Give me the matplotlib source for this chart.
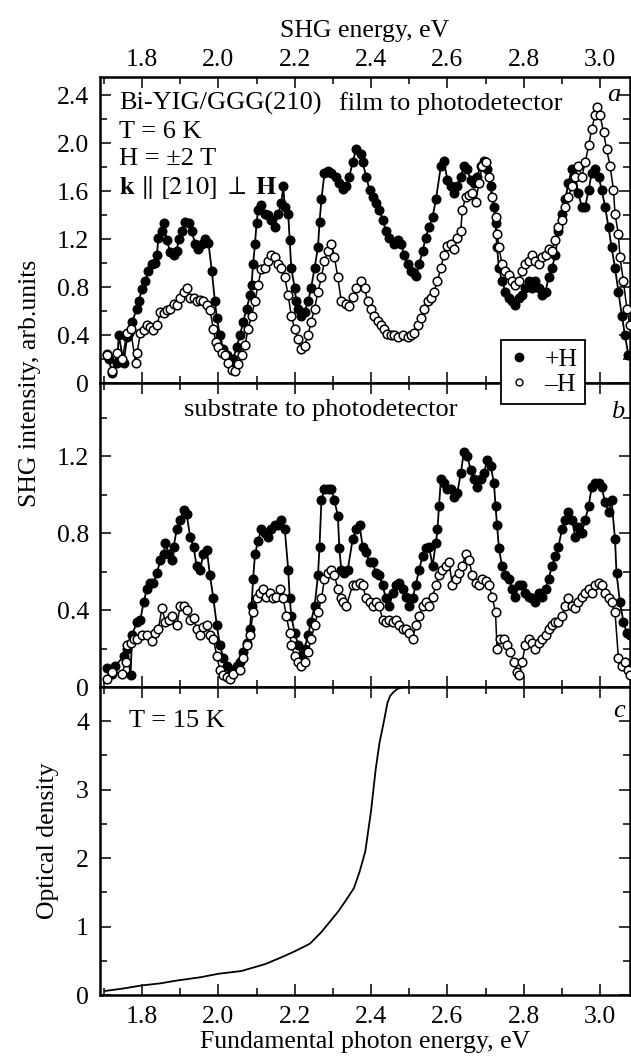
import matplotlib
matplotlib.use("Agg")
import matplotlib.pyplot as plt
from matplotlib.lines import Line2D
from matplotlib.ticker import MultipleLocator, FuncFormatter

plt.rcParams['font.family'] = ['Liberation Serif', 'DejaVu Serif']
plt.rcParams['mathtext.fontset'] = 'stix'

# panel a: film to photodetector, +H (filled) and -H (open)
a_plus_x = [1.709, 1.713, 1.722, 1.735, 1.739, 1.752, 1.761, 1.765, 1.774, 1.787, 1.791, 1.800, 1.809,
            1.817, 1.826, 1.835, 1.839, 1.843, 1.852, 1.857, 1.865, 1.874, 1.883, 1.891, 1.896, 1.904,
            1.913, 1.922, 1.930, 1.939, 1.948, 1.957, 1.965, 1.974, 1.983, 1.991, 1.996, 2.004, 2.013,
            2.022, 2.030, 2.039, 2.048, 2.057, 2.065, 2.074, 2.083, 2.087, 2.091, 2.096, 2.100, 2.104,
            2.113, 2.122, 2.130, 2.139, 2.148, 2.157, 2.165, 2.170, 2.174, 2.183, 2.187, 2.191, 2.200,
            2.204, 2.209, 2.217, 2.226, 2.235, 2.243, 2.252, 2.261, 2.265, 2.270, 2.278, 2.287, 2.296,
            2.309, 2.317, 2.326, 2.335, 2.343, 2.352, 2.361, 2.374, 2.378, 2.387, 2.396, 2.404, 2.413,
            2.422, 2.430, 2.439, 2.448, 2.461, 2.470, 2.478, 2.487, 2.496, 2.504, 2.513, 2.517, 2.526,
            2.535, 2.543, 2.552, 2.561, 2.570, 2.583, 2.591, 2.600, 2.609, 2.617, 2.626, 2.635, 2.643,
            2.652, 2.661, 2.670, 2.678, 2.687, 2.696, 2.704, 2.713, 2.722, 2.726, 2.730, 2.735, 2.743,
            2.752, 2.761, 2.770, 2.778, 2.787, 2.796, 2.804, 2.813, 2.822, 2.830, 2.839, 2.848, 2.857,
            2.865, 2.874, 2.883, 2.891, 2.900, 2.909, 2.917, 2.926, 2.935, 2.943, 2.952, 2.961, 2.970,
            2.978, 2.987, 2.996, 3.004, 3.013, 3.022, 3.030, 3.039, 3.048, 3.057, 3.065, 3.074]
a_plus_y = [0.24, 0.20, 0.08, 0.17, 0.40, 0.17, 0.38, 0.42, 0.51, 0.62, 0.68, 0.78, 0.85,
            0.93, 0.99, 1.00, 1.07, 1.21, 1.27, 1.33, 1.19, 1.09, 1.07, 1.10, 1.20, 1.27,
            1.34, 1.33, 1.27, 1.16, 1.12, 1.16, 1.20, 1.17, 0.93, 0.68, 0.54, 0.40, 0.28,
            0.23, 0.17, 0.20, 0.30, 0.40, 0.51, 0.62, 0.73, 0.82, 0.99, 1.16, 1.33, 1.44,
            1.48, 1.41, 1.40, 1.36, 1.30, 1.41, 1.50, 1.64, 1.47, 1.41, 1.19, 0.96, 0.79,
            0.68, 0.62, 0.56, 0.59, 0.68, 0.79, 0.96, 1.13, 1.34, 1.53, 1.75, 1.77, 1.75,
            1.72, 1.67, 1.62, 1.64, 1.72, 1.84, 1.95, 1.91, 1.84, 1.72, 1.61, 1.55, 1.50,
            1.44, 1.36, 1.27, 1.21, 1.16, 1.19, 1.16, 1.07, 0.99, 0.93, 0.92, 0.89, 0.99,
            1.10, 1.21, 1.30, 1.38, 1.53, 1.81, 1.85, 1.69, 1.64, 1.58, 1.64, 1.72, 1.81,
            1.78, 1.69, 1.67, 1.72, 1.81, 1.85, 1.78, 1.64, 1.47, 1.33, 1.13, 0.96, 0.85,
            0.76, 0.71, 0.68, 0.65, 0.71, 0.73, 0.79, 0.85, 0.79, 0.85, 0.79, 0.73, 0.76,
            0.88, 0.96, 1.07, 1.27, 1.41, 1.53, 1.67, 1.78, 1.72, 1.58, 1.47, 1.47, 1.61,
            1.75, 1.78, 1.72, 1.61, 1.47, 1.30, 1.13, 0.96, 0.76, 0.56, 0.40, 0.23]

a_minus_x = [1.709, 1.722, 1.735, 1.748, 1.761, 1.770, 1.783, 1.787, 1.796, 1.804, 1.813, 1.822, 1.830,
             1.839, 1.848, 1.857, 1.865, 1.874, 1.883, 1.891, 1.900, 1.909, 1.917, 1.926, 1.935, 1.943,
             1.952, 1.961, 1.970, 1.978, 1.987, 1.993, 2.000, 2.009, 2.017, 2.026, 2.035, 2.043, 2.052,
             2.061, 2.070, 2.078, 2.087, 2.096, 2.104, 2.113, 2.122, 2.130, 2.139, 2.148, 2.157, 2.165,
             2.174, 2.183, 2.191, 2.200, 2.209, 2.217, 2.226, 2.235, 2.243, 2.252, 2.261, 2.270, 2.278,
             2.287, 2.296, 2.304, 2.313, 2.322, 2.335, 2.343, 2.352, 2.361, 2.374, 2.383, 2.391, 2.400,
             2.409, 2.417, 2.426, 2.435, 2.443, 2.452, 2.461, 2.470, 2.483, 2.496, 2.504, 2.513, 2.522,
             2.530, 2.539, 2.548, 2.557, 2.565, 2.574, 2.583, 2.591, 2.600, 2.609, 2.617, 2.626, 2.635,
             2.639, 2.648, 2.657, 2.665, 2.674, 2.683, 2.691, 2.700, 2.709, 2.717, 2.726, 2.730, 2.735,
             2.743, 2.752, 2.761, 2.770, 2.778, 2.787, 2.796, 2.804, 2.813, 2.822, 2.830, 2.839, 2.848,
             2.857, 2.865, 2.874, 2.883, 2.891, 2.900, 2.909, 2.917, 2.926, 2.935, 2.943, 2.952, 2.961,
             2.970, 2.978, 2.987, 2.991, 3.000, 3.009, 3.017, 3.026, 3.035, 3.039, 3.048, 3.052, 3.061,
             3.070, 3.078]
a_minus_y = [0.23, 0.10, 0.25, 0.20, 0.42, 0.45, 0.17, 0.25, 0.42, 0.44, 0.48, 0.47, 0.44,
             0.48, 0.59, 0.58, 0.61, 0.62, 0.66, 0.65, 0.71, 0.76, 0.79, 0.71, 0.71, 0.68,
             0.69, 0.68, 0.65, 0.61, 0.45, 0.34, 0.30, 0.25, 0.23, 0.17, 0.11, 0.10, 0.16,
             0.23, 0.32, 0.45, 0.56, 0.68, 0.82, 0.95, 0.96, 1.02, 1.07, 1.05, 0.99, 0.96,
             0.88, 0.73, 0.56, 0.45, 0.37, 0.28, 0.31, 0.40, 0.51, 0.62, 0.76, 0.88, 1.02,
             1.10, 1.16, 1.05, 0.88, 0.68, 0.66, 0.64, 0.72, 0.79, 0.85, 0.79, 0.68, 0.62,
             0.56, 0.52, 0.48, 0.45, 0.41, 0.40, 0.40, 0.38, 0.40, 0.38, 0.40, 0.42, 0.48,
             0.54, 0.62, 0.68, 0.71, 0.76, 0.85, 0.96, 1.07, 1.14, 1.16, 1.12, 1.21, 1.27,
             1.44, 1.55, 1.57, 1.58, 1.51, 1.67, 1.81, 1.84, 1.72, 1.55, 1.38, 1.24, 1.13,
             0.99, 0.93, 0.90, 0.85, 0.82, 0.85, 0.93, 0.99, 1.02, 1.07, 1.02, 0.99, 1.05,
             1.07, 1.12, 1.10, 1.19, 1.30, 1.36, 1.47, 1.55, 1.64, 1.72, 1.81, 1.72, 1.84,
             1.98, 2.12, 2.23, 2.30, 2.23, 2.09, 1.95, 1.81, 1.61, 1.41, 1.24, 1.05, 0.85,
             0.62, 0.48]

# panel b: substrate to photodetector
b_plus_x = [1.709, 1.722, 1.730, 1.752, 1.761, 1.770, 1.774, 1.787, 1.796, 1.804, 1.813, 1.822, 1.830,
            1.839, 1.848, 1.857, 1.861, 1.870, 1.878, 1.883, 1.891, 1.900, 1.909, 1.917, 1.926, 1.935,
            1.943, 1.952, 1.961, 1.970, 1.978, 1.987, 1.996, 2.004, 2.013, 2.022, 2.030, 2.039, 2.048,
            2.057, 2.065, 2.074, 2.083, 2.087, 2.091, 2.096, 2.104, 2.113, 2.122, 2.130, 2.139, 2.148,
            2.157, 2.165, 2.174, 2.183, 2.187, 2.191, 2.200, 2.209, 2.217, 2.226, 2.235, 2.243, 2.252,
            2.261, 2.265, 2.270, 2.278, 2.287, 2.296, 2.304, 2.313, 2.317, 2.322, 2.330, 2.339, 2.352,
            2.361, 2.370, 2.378, 2.387, 2.396, 2.404, 2.413, 2.422, 2.430, 2.439, 2.448, 2.457, 2.465,
            2.474, 2.483, 2.491, 2.500, 2.509, 2.517, 2.526, 2.535, 2.543, 2.552, 2.561, 2.570, 2.574,
            2.578, 2.583, 2.591, 2.600, 2.609, 2.617, 2.626, 2.635, 2.643, 2.652, 2.661, 2.670, 2.678,
            2.687, 2.696, 2.704, 2.713, 2.722, 2.726, 2.730, 2.735, 2.743, 2.752, 2.761, 2.770, 2.778,
            2.787, 2.796, 2.804, 2.813, 2.822, 2.830, 2.839, 2.848, 2.857, 2.865, 2.874, 2.883, 2.891,
            2.900, 2.909, 2.917, 2.926, 2.935, 2.943, 2.952, 2.961, 2.970, 2.978, 2.987, 2.996, 3.004,
            3.013, 3.022, 3.030, 3.039, 3.043, 3.052, 3.061, 3.070, 3.078]
b_plus_y = [0.10, 0.07, 0.11, 0.16, 0.20, 0.06, 0.27, 0.34, 0.35, 0.44, 0.51, 0.54, 0.54,
            0.59, 0.66, 0.69, 0.75, 0.69, 0.66, 0.73, 0.82, 0.87, 0.92, 0.90, 0.78, 0.73,
            0.63, 0.61, 0.69, 0.71, 0.58, 0.46, 0.32, 0.22, 0.15, 0.11, 0.06, 0.09, 0.11,
            0.13, 0.18, 0.23, 0.30, 0.42, 0.56, 0.69, 0.76, 0.82, 0.80, 0.78, 0.82, 0.84,
            0.84, 0.87, 0.82, 0.61, 0.46, 0.37, 0.28, 0.22, 0.16, 0.20, 0.27, 0.34, 0.42,
            0.58, 0.73, 0.97, 1.03, 1.03, 1.03, 0.97, 0.89, 0.72, 0.61, 0.59, 0.61, 0.77,
            0.82, 0.84, 0.73, 0.70, 0.65, 0.65, 0.59, 0.58, 0.53, 0.46, 0.42, 0.49, 0.53,
            0.54, 0.51, 0.47, 0.42, 0.46, 0.53, 0.61, 0.68, 0.72, 0.73, 0.63, 0.75, 0.82,
            0.94, 1.08, 1.06, 1.03, 1.03, 0.99, 1.01, 1.11, 1.22, 1.20, 1.13, 1.08, 1.04,
            1.08, 1.11, 1.18, 1.15, 1.06, 0.94, 0.84, 0.72, 0.63, 0.58, 0.56, 0.51, 0.47,
            0.53, 0.53, 0.49, 0.47, 0.46, 0.44, 0.49, 0.47, 0.51, 0.56, 0.63, 0.68, 0.73,
            0.82, 0.87, 0.91, 0.87, 0.78, 0.83, 0.80, 0.87, 0.94, 1.04, 1.06, 1.06, 1.04,
            0.96, 0.91, 0.97, 0.77, 0.59, 0.44, 0.34, 0.28, 0.27]

b_minus_x = [1.709, 1.722, 1.748, 1.757, 1.761, 1.770, 1.778, 1.787, 1.800, 1.813, 1.826, 1.835, 1.843,
             1.852, 1.861, 1.870, 1.878, 1.891, 1.900, 1.909, 1.917, 1.926, 1.935, 1.943, 1.952, 1.961,
             1.970, 1.978, 1.987, 1.996, 2.004, 2.013, 2.022, 2.030, 2.039, 2.057, 2.065, 2.074, 2.083,
             2.091, 2.100, 2.109, 2.117, 2.126, 2.135, 2.143, 2.152, 2.161, 2.170, 2.178, 2.187, 2.191,
             2.200, 2.209, 2.217, 2.226, 2.235, 2.243, 2.252, 2.261, 2.270, 2.278, 2.287, 2.296, 2.304,
             2.313, 2.322, 2.326, 2.335, 2.352, 2.361, 2.370, 2.378, 2.387, 2.396, 2.404, 2.413, 2.422,
             2.430, 2.439, 2.448, 2.457, 2.465, 2.474, 2.483, 2.491, 2.500, 2.509, 2.517, 2.526, 2.535,
             2.543, 2.552, 2.561, 2.570, 2.578, 2.587, 2.596, 2.604, 2.613, 2.622, 2.630, 2.639, 2.648,
             2.657, 2.665, 2.674, 2.683, 2.691, 2.700, 2.709, 2.717, 2.726, 2.730, 2.739, 2.748, 2.757,
             2.765, 2.774, 2.783, 2.787, 2.796, 2.804, 2.813, 2.822, 2.830, 2.839, 2.848, 2.857, 2.865,
             2.874, 2.883, 2.891, 2.900, 2.909, 2.917, 2.926, 2.935, 2.943, 2.952, 2.961, 2.970, 2.978,
             2.987, 2.996, 3.004, 3.013, 3.022, 3.030, 3.039, 3.048, 3.057, 3.065, 3.074, 3.078]
b_minus_y = [0.04, 0.08, 0.07, 0.13, 0.22, 0.23, 0.25, 0.25, 0.27, 0.27, 0.24, 0.28, 0.30,
             0.41, 0.34, 0.35, 0.37, 0.32, 0.42, 0.42, 0.40, 0.35, 0.36, 0.30, 0.27, 0.31,
             0.32, 0.27, 0.25, 0.16, 0.09, 0.06, 0.05, 0.04, 0.07, 0.09, 0.15, 0.22, 0.27,
             0.39, 0.46, 0.49, 0.51, 0.47, 0.49, 0.46, 0.47, 0.51, 0.46, 0.37, 0.28, 0.22,
             0.16, 0.13, 0.11, 0.13, 0.18, 0.25, 0.32, 0.39, 0.46, 0.56, 0.59, 0.61, 0.58,
             0.51, 0.46, 0.44, 0.42, 0.53, 0.53, 0.54, 0.53, 0.46, 0.44, 0.42, 0.44, 0.42,
             0.35, 0.34, 0.35, 0.34, 0.35, 0.32, 0.30, 0.30, 0.28, 0.25, 0.32, 0.37, 0.42,
             0.44, 0.42, 0.47, 0.53, 0.58, 0.61, 0.63, 0.65, 0.53, 0.56, 0.59, 0.63, 0.69,
             0.66, 0.58, 0.54, 0.53, 0.56, 0.55, 0.53, 0.47, 0.39, 0.20, 0.25, 0.25, 0.22,
             0.18, 0.13, 0.08, 0.06, 0.13, 0.22, 0.25, 0.23, 0.20, 0.23, 0.25, 0.27, 0.30,
             0.32, 0.34, 0.34, 0.37, 0.42, 0.46, 0.42, 0.41, 0.44, 0.47, 0.49, 0.51, 0.49,
             0.53, 0.54, 0.53, 0.49, 0.46, 0.44, 0.39, 0.15, 0.11, 0.13, 0.09, 0.06]

# panel c: optical density at T = 15 K
c_x = [1.704, 1.745, 1.800, 1.848, 1.890, 1.954, 2.000, 2.060, 2.122, 2.165, 2.197, 2.240, 2.270,
       2.314, 2.335, 2.355, 2.370, 2.385, 2.400, 2.412, 2.422, 2.433, 2.443, 2.450, 2.458, 2.468,
       2.479, 2.490]
c_y = [0.06, 0.09, 0.14, 0.17, 0.21, 0.26, 0.31, 0.35, 0.45, 0.55, 0.63, 0.75, 0.92,
       1.22, 1.39, 1.56, 1.80, 2.10, 2.69, 3.29, 3.68, 3.98, 4.27, 4.37, 4.42, 4.47,
       4.49, 4.50]

fig = plt.figure(figsize=(6.31, 10.61), dpi=100)
L, W = 100 / 631, 529.5 / 631
ax_a = fig.add_axes([L, 1 - 383 / 1061, W, 306 / 1061])
ax_b = fig.add_axes([L, 1 - 687 / 1061, W, 304 / 1061])
ax_c = fig.add_axes([L, 1 - 995 / 1061, W, 308 / 1061])

fmt = FuncFormatter(lambda v, p: '0' if abs(v) < 1e-9 else f'{v:.1f}')

for ax in (ax_a, ax_b, ax_c):
    ax.set_xlim(1.69, 3.077)
    ax.xaxis.set_major_locator(MultipleLocator(0.2))
    ax.xaxis.set_minor_locator(MultipleLocator(0.1))
    ax.tick_params(which='both', direction='in', top=True, bottom=True, left=True, right=True,
                   labelsize=18.5, width=1.1, pad=8, labelbottom=False)
    ax.tick_params(which='major', length=8)
    ax.tick_params(which='minor', length=5)
    for s in ax.spines.values():
        s.set_linewidth(1.8)

# SHG curves
for ax, (xp, yp), (xm, ym) in [(ax_a, (a_plus_x, a_plus_y), (a_minus_x, a_minus_y)),
                               (ax_b, (b_plus_x, b_plus_y), (b_minus_x, b_minus_y))]:
    ax.plot(xp, yp, '-', color='k', lw=1.3, marker='o', ms=6.2, mfc='k', mec='k', zorder=2)
    ax.plot(xm, ym, '-', color='k', lw=1.1, marker='o', ms=6.2, mfc='white', mec='k', mew=1.1, zorder=3)
    ax.yaxis.set_major_formatter(fmt)

ax_a.set_ylim(0, 2.55)
ax_a.yaxis.set_major_locator(MultipleLocator(0.4))
ax_a.yaxis.set_minor_locator(MultipleLocator(0.2))
ax_a.tick_params(axis='x', labeltop=True, pad=4)
ax_a.xaxis.set_label_position('top')
ax_a.set_xlabel('SHG energy, eV', fontsize=18.5, labelpad=9)

ax_b.set_ylim(0, 1.58)
ax_b.yaxis.set_major_locator(MultipleLocator(0.4))
ax_b.yaxis.set_minor_locator(MultipleLocator(0.2))

ax_c.plot(c_x, c_y, '-', color='k', lw=1.3)
ax_c.set_ylim(0, 4.5)
ax_c.yaxis.set_major_locator(MultipleLocator(1))
ax_c.yaxis.set_minor_locator(MultipleLocator(0.5))
ax_c.tick_params(labelbottom=True)
ax_c.set_xlabel('Fundamental photon energy, eV', fontsize=18.5, labelpad=2)

# annotations
tk = dict(fontsize=19, va='center', ha='left')
ax_a.text(1.74, 2.33, 'Bi-YIG/GGG(210)', **tk)
ax_a.text(1.74, 2.09, 'T = 6 K', **tk)
ax_a.text(1.74, 1.87, 'H = ±2 T', **tk)
ax_a.text(1.74, 1.63, r'$\mathbf{k}\ \|\ [210]\ \perp\ \mathbf{H}$', **tk)
ax_a.text(2.315, 2.33, 'film to photodetector', **tk)
ax_a.text(3.035, 2.40, 'a', fontsize=19, style='italic', ha='center', va='center')

ax_b.text(1.909, 1.44, 'substrate to photodetector', **tk)
ax_b.text(3.045, 1.43, 'b', fontsize=19, style='italic', ha='center', va='center')

ax_c.text(1.765, 4.0, 'T = 15 K', **tk)
ax_c.text(3.05, 4.15, 'c', fontsize=19, style='italic', ha='center', va='center')

fig.text(30 / 631, 1 - 383 / 1061, 'SHG intensity, arb.units', rotation=90,
         ha='center', va='center', fontsize=18.5)
fig.text(48 / 631, 1 - 841 / 1061, 'Optical density', rotation=90,
         ha='center', va='center', fontsize=18.5)

handles = [Line2D([], [], ls='none', marker='o', ms=6, mfc='k', mec='k'),
           Line2D([], [], ls='none', marker='o', ms=5, mfc='white', mec='k', mew=1.0)]
leg = fig.legend(handles, ['+H', '–H'], loc='center', bbox_to_anchor=(543 / 631, 1 - 372 / 1061),
                 frameon=True, fancybox=False, framealpha=1, edgecolor='k', fontsize=18.5,
                 handlelength=0.8, handletextpad=0.6, borderpad=0.3, labelspacing=0.1)
leg.get_frame().set_linewidth(1.3)

fig.savefig('out.png', dpi=100)
